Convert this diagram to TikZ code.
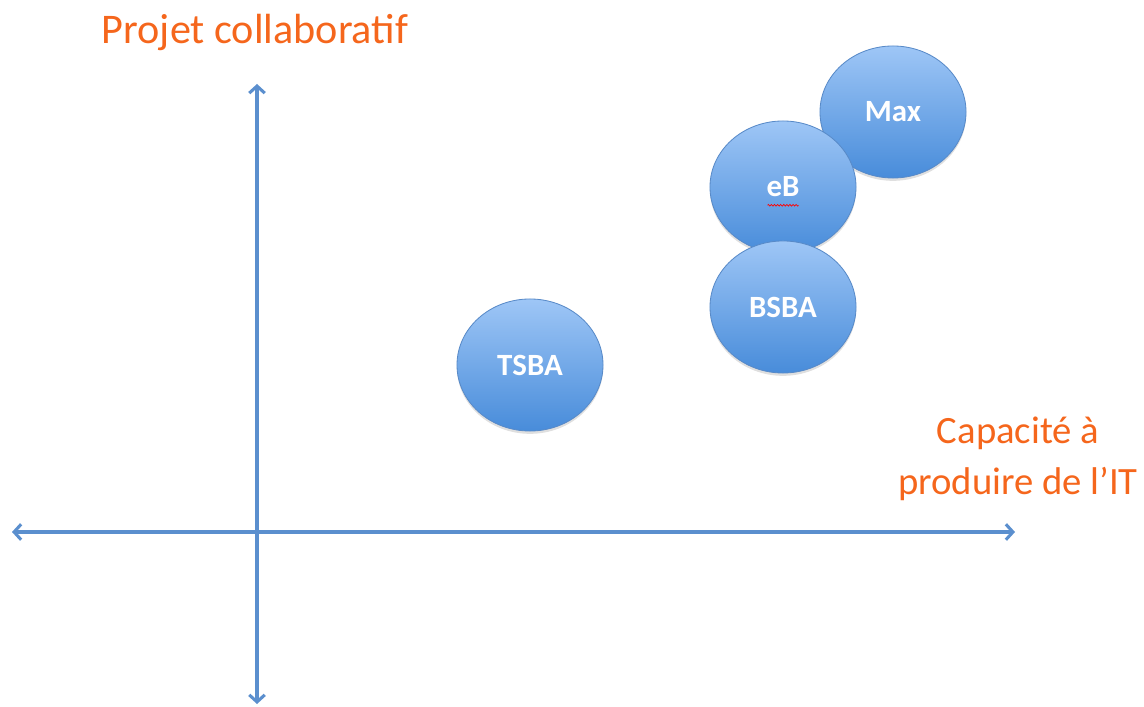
\documentclass[tikz,border=0pt]{standalone}
\usepackage{fontspec}
\setmainfont{Carlito}
\usepackage{xcolor}
\usepgflibrary{shapes.geometric}
\usetikzlibrary{arrows.meta,shadows,decorations.pathmorphing}
\definecolor{axisblue}{RGB}{91,143,206}
\definecolor{labelorange}{RGB}{245,102,28}
\definecolor{bubbletop}{RGB}{158,198,246}
\definecolor{bubblebot}{RGB}{72,140,218}
\definecolor{bubbleline}{RGB}{88,138,200}

\begin{document}
\begin{tikzpicture}[x=0.025cm, y=-0.025cm,
    axis/.style={draw=axisblue, line width=2.2pt, {Straight Barb[length=5pt,width=11pt]}-{Straight Barb[length=5pt,width=11pt]}},
    bubble/.style={ellipse, minimum width=3.65cm, minimum height=3.3cm, inner sep=0pt,
      top color=bubbletop, bottom color=bubblebot, draw=bubbleline, line width=0.6pt,
      drop shadow={opacity=0.25, shadow xshift=0pt, shadow yshift=-2pt},
      text=white, font=\fontsize{22}{26}\selectfont\bfseries},
    axislabel/.style={text=labelorange, font=\fontsize{30}{36}\selectfont, align=center}]
    \useasboundingbox (0, 0) rectangle (1144, 707);

    % axes
    \coordinate (xl) at (12, 532);
    \coordinate (xr) at (1015, 532);
    \coordinate (yb) at (257, 704);
    \coordinate (yt) at (257, 84);
    \draw[axis] (xl) -- (xr);
    \draw[axis] (yb) -- (yt);

    \node[axislabel] (ylab) at (255, 32) {Projet collaboratif};
    \node[axislabel, font=\fontsize{27.5}{36}\selectfont] (xlab) at (1018, 459)
      {Capacité à\\produire de l’IT};

    % bubbles
    \node[bubble] (max) at (893, 112) {Max};
    \node[bubble] (eb) at (783, 187) {eB};
    \node[bubble] (bsba) at (783, 307) {BSBA};
    \node[bubble] (tsba) at (530, 365) {TSBA};

    \draw[red, line width=0.5pt, decorate,
      decoration={zigzag, segment length=2.2pt, amplitude=0.6pt}]
      ([yshift=-13pt, xshift=-11pt]eb.center) -- ([yshift=-13pt, xshift=11pt]eb.center);
  \end{tikzpicture}
\end{document}
